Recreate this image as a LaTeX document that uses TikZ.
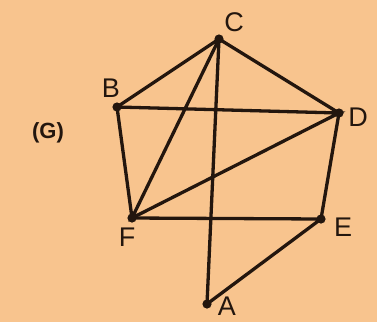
\documentclass[tikz,border=0pt]{standalone}
\usepackage{fontspec}
\setmainfont{Liberation Sans}
\definecolor{paper}{RGB}{248,196,142}
\definecolor{ink}{RGB}{35,22,14}

\begin{document}
\begin{tikzpicture}[x=1pt,y=-1pt,
  lbl/.style={text=ink, font=\fontsize{27}{27}\selectfont, inner sep=0pt}]
\fill[paper] (0,0) rectangle (377,322);
\useasboundingbox (0,0) rectangle (377,322);
\coordinate (C) at (219,39);
\coordinate (B) at (117,107);
\coordinate (D) at (339,113);
\coordinate (F) at (132,218);
\coordinate (E) at (321,219);
\coordinate (A) at (207,304);
\draw[ink, line width=3.3pt, line join=round] (C) -- (B) -- (F) -- (E) -- (A) -- (C) -- (D) -- (E);
\draw[ink, line width=3.3pt] (B) -- (D) -- (F) -- (C);
\foreach \v in {A,B,C,D,E,F}
  \fill[ink] (\v) circle (4.6);
\node[lbl] (lC) at (234,22) {C};
\node[lbl] (lB) at (111,88) {B};
\node[lbl] (lD) at (358,117) {D};
\node[lbl] (lF) at (127,237) {F};
\node[lbl] (lE) at (343,227) {E};
\node[lbl] (lA) at (227,306) {A};
\node[lbl, font=\fontsize{22}{22}\selectfont\bfseries] (G) at (48,133) {(G)};
\end{tikzpicture}
\end{document}
